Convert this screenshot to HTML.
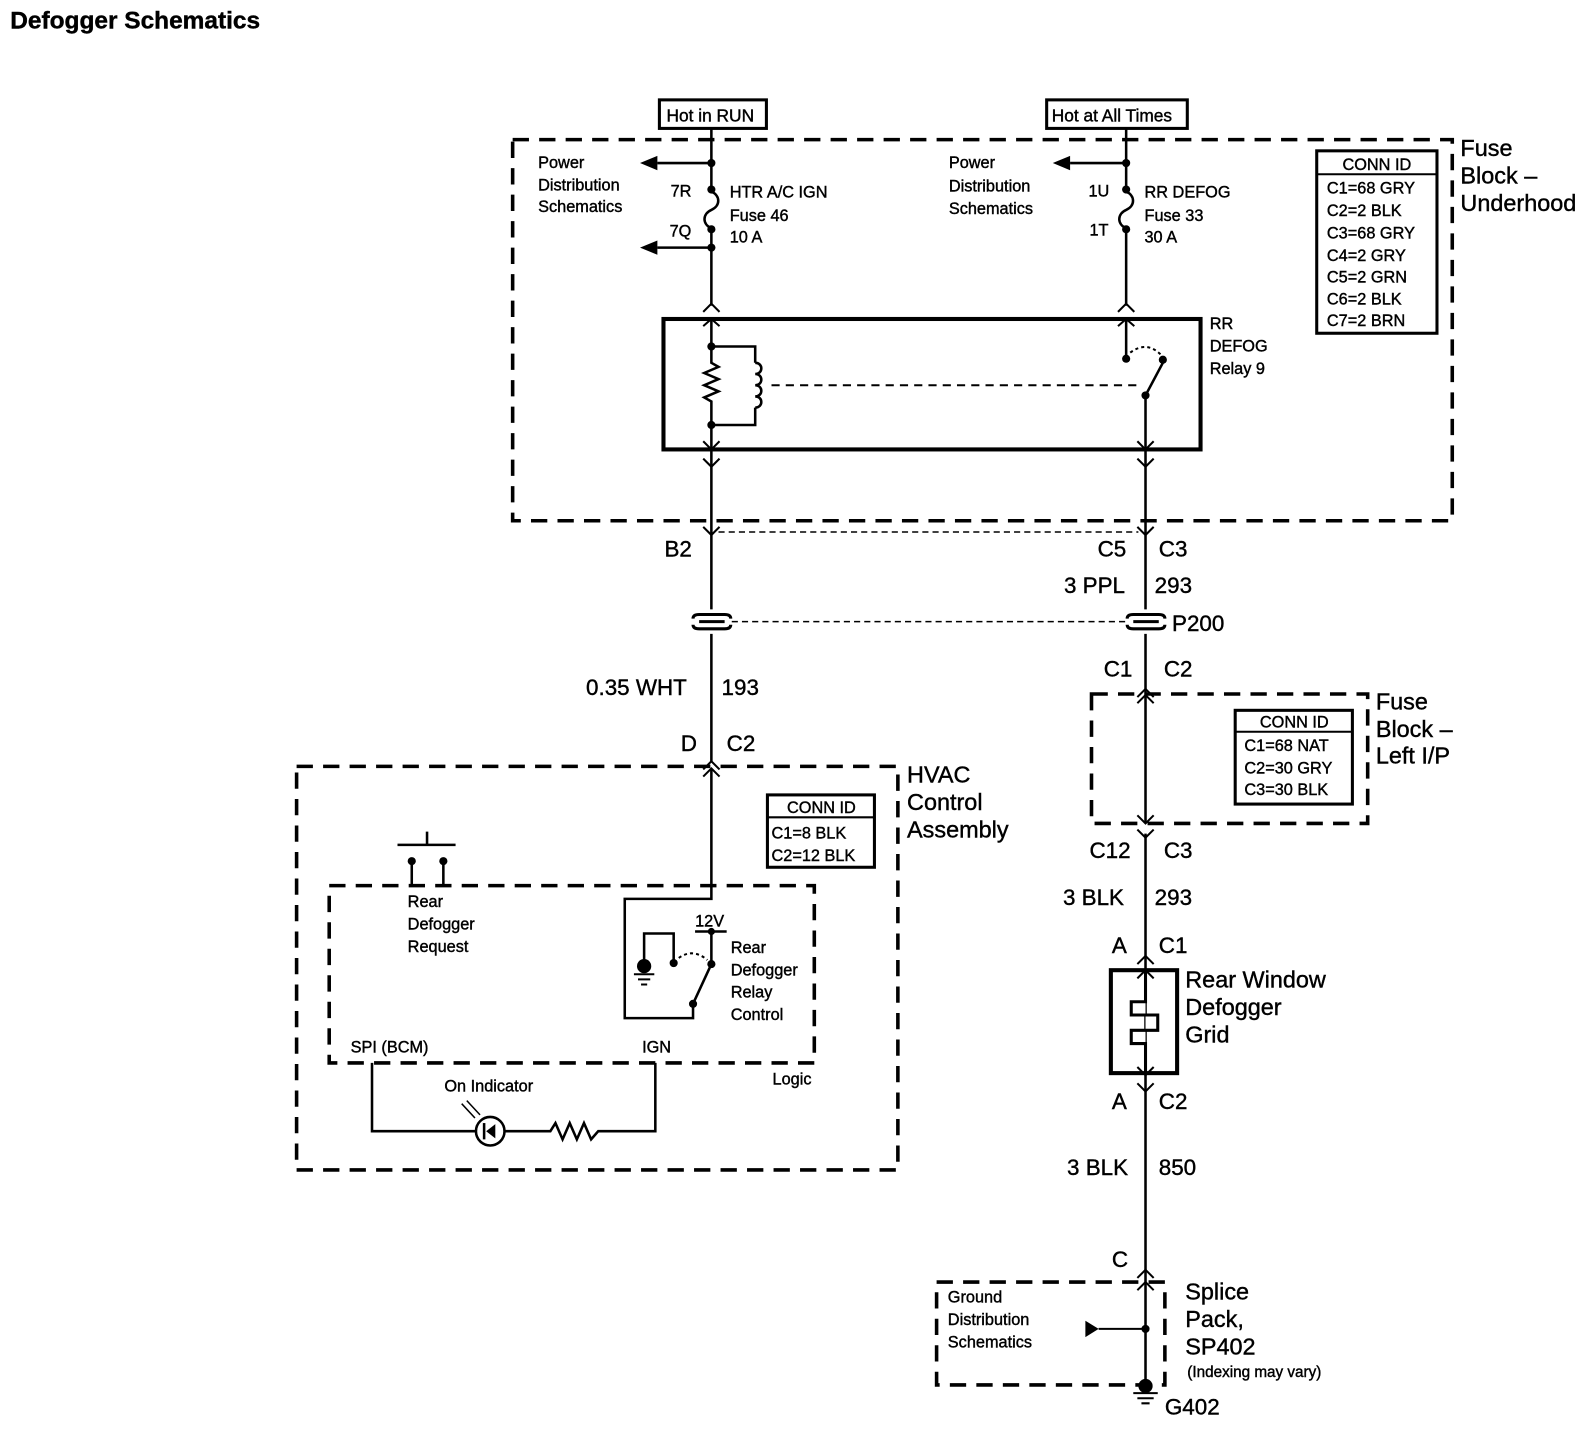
<!DOCTYPE html>
<html><head><meta charset="utf-8"><style>
html,body{margin:0;padding:0;background:#fff;}
svg{display:block;}
text{font-family:"Liberation Sans",sans-serif;fill:#000;stroke:#000;stroke-width:0.4;}
.s{font-size:16px;}
.m{font-size:22px;}
.l{font-size:23px;}
</style></head><body>
<svg width="1596" height="1440" viewBox="0 0 1566 1413" xmlns="http://www.w3.org/2000/svg">
<text x="10" y="28" style="font-size:24px;font-weight:bold">Defogger Schematics</text>

<g fill="none" stroke="#000">
<rect x="647" y="98" width="105" height="28" stroke-width="3"/>
<rect x="1027" y="98" width="138" height="28" stroke-width="3"/>
<rect x="503" y="137" width="922" height="374" stroke-width="3.5" stroke-dasharray="16 10"/>
<path d="M698 126V186M698 225V300M1105 126V186M1105 225V300" stroke-width="2.5"/>
<path d="M698 188C707 192 707 202 698 206C689 210 689 220 698 224M1105 188C1114 192 1114 202 1105 206C1096 210 1096 220 1105 224" stroke-width="2.5"/>
<path d="M698 160H645M698 243H645M1105 160H1050" stroke-width="2.5"/>
<path d="M690 306L698 298L706 306M690 320L698 313L706 320M1097 306L1105 298L1113 306M1097 320L1105 313L1113 320" stroke-width="2"/>
<path d="M690 433L698 441L706 433M690 450L698 458L706 450M1116 433L1124 441L1132 433M1116 450L1124 458L1132 450" stroke-width="2"/>
<rect x="651" y="313" width="527" height="128" stroke-width="4"/>
<path d="M698 313V356L705 360L691 366L705 372L691 378L705 384L691 390L698 394V441M698 340H741V356M741 400V417H698" stroke-width="2.5"/>
<path d="M741 356c8 0 8 11 0 11c8 0 8 11 0 11c8 0 8 11 0 11c8 0 8 11 0 11" stroke-width="2.5"/>
<path d="M757 378H1118" stroke-width="2" stroke-dasharray="8 6"/>
<path d="M1105 313V352M1124 388L1141 356M1124 388V441" stroke-width="2.5"/>
<path d="M1109 346Q1125 334 1139 348" stroke-width="2" stroke-dasharray="3 3"/>
<rect x="1292" y="148" width="118" height="179" stroke-width="3"/>
<path d="M1292 171H1410" stroke-width="2"/>
<path d="M698 441V598M1124 441V598M698 622V747M1124 622V808M1124 818V1063M1124 1063V1360" stroke-width="2.5"/>
<path d="M690 517L698 525L706 517M1116 517L1124 525L1132 517" stroke-width="2"/>
<path d="M705 522H1117" stroke-width="1.5" stroke-dasharray="6 4"/>
<path d="M686 603H711Q717 603 717 607M686 617H711Q717 617 717 613M686 603Q680 603 680 607M686 617Q680 617 680 613M686 610H711" stroke-width="3"/>
<path d="M1112 603H1137Q1143 603 1143 607M1112 617H1137Q1143 617 1143 613M1112 603Q1106 603 1106 607M1112 617Q1106 617 1106 613M1112 610H1137" stroke-width="3"/>
<path d="M718 610H1104" stroke-width="1.5" stroke-dasharray="6 4"/>
<path d="M1116 684L1124 676L1132 684M1116 690L1124 682L1132 690M1116 800L1124 808L1132 800M1116 814L1124 822L1132 814" stroke-width="2"/>
<rect x="1071" y="681" width="271" height="127" stroke-width="3.5" stroke-dasharray="16 10"/>
<rect x="1212" y="697" width="115" height="92" stroke-width="3"/>
<path d="M1212 718H1327" stroke-width="2"/>
<path d="M1116 946L1124 938L1132 946M1116 960L1124 952L1132 960M1116 1047L1124 1055L1132 1047M1116 1063L1124 1071L1132 1063" stroke-width="2"/>
<rect x="1090" y="952" width="65" height="101" stroke-width="4"/>
<path d="M1124 952V983H1110V996H1136V1011H1110V1024H1124V1053" stroke-width="3" fill="#fff"/>
<path d="M1116 1254L1124 1246L1132 1254M1116 1266L1124 1258L1132 1266" stroke-width="2"/>
<rect x="919" y="1258" width="224" height="101" stroke-width="3.5" stroke-dasharray="16 10"/>
<path d="M1078 1304H1124" stroke-width="2"/>
<path d="M1112 1367H1136M1116 1372H1132M1120 1377H1128" stroke-width="2"/>
<path d="M690 755L698 747L706 755M690 762L698 754L706 762" stroke-width="2"/>
<rect x="291" y="752" width="590" height="396" stroke-width="3.5" stroke-dasharray="16 10"/>
<rect x="753" y="780" width="105" height="71" stroke-width="3"/>
<path d="M753 802H858" stroke-width="2"/>
<rect x="323" y="869" width="476" height="174" stroke-width="3.5" stroke-dasharray="16 10"/>
<path d="M390 829H447M419 816V829M404 845V869M435 845V869" stroke-width="2.5"/>
<path d="M698 754V882H613V999H680V985M680 985L698 946M698 946V914M682 914H713M661 945V916H632V944" stroke-width="2.5"/>
<path d="M666 940Q680 930 694 942" stroke-width="2" stroke-dasharray="3 3"/>
<path d="M622 956H642M626 961H638M629 966H635" stroke-width="2"/>
<path d="M365 1043V1110H467M495 1110H540L545 1102L552 1118L559 1102L566 1118L573 1102L580 1118L587 1110H643V1043" stroke-width="2.5"/>
<circle cx="481" cy="1110" r="14" stroke-width="2.5"/>
<path d="M475 1102V1118" stroke-width="2.5"/>
<path d="M453 1083L466 1097M458 1080L471 1094" stroke-width="1.5"/>
</g>
<g fill="#000">
<polygon points="628,160 645,153 645,167"/>
<polygon points="628,243 645,236 645,250"/>
<polygon points="1033,160 1050,153 1050,167"/>
<circle cx="698" cy="160" r="4"/><circle cx="698" cy="186" r="4"/><circle cx="698" cy="225" r="4"/><circle cx="698" cy="243" r="4"/>
<circle cx="1105" cy="160" r="4"/><circle cx="1105" cy="186" r="4"/><circle cx="1105" cy="225" r="4"/>
<circle cx="698" cy="340" r="4"/><circle cx="698" cy="417" r="4"/>
<circle cx="1105" cy="352" r="4"/><circle cx="1141" cy="353" r="4"/><circle cx="1124" cy="388" r="4"/>
<polygon points="1065,1296 1065,1312 1078,1304"/>
<circle cx="1124" cy="1304" r="4"/>
<circle cx="1124" cy="1360" r="7"/>
<circle cx="404" cy="845" r="4"/><circle cx="435" cy="845" r="4"/>
<circle cx="698" cy="914" r="3.5"/><circle cx="698" cy="946" r="4"/><circle cx="680" cy="985" r="4"/><circle cx="661" cy="945" r="4"/>
<circle cx="632" cy="948" r="7"/>
<polygon points="477,1110 486,1103 486,1117"/>
</g>

<text x="654" y="119" class="s" style="font-size:17px">Hot in RUN</text>
<text x="1032" y="119" class="s" style="font-size:17px">Hot at All Times</text>
<text x="528" y="165" class="s">Power</text><text x="528" y="187" class="s">Distribution</text><text x="528" y="208" class="s">Schematics</text>
<text x="931" y="165" class="s">Power</text><text x="931" y="188" class="s">Distribution</text><text x="931" y="210" class="s">Schematics</text>
<text x="658" y="193" class="s">7R</text><text x="657" y="232" class="s">7Q</text>
<text x="716" y="194" class="s">HTR A/C IGN</text><text x="716" y="217" class="s">Fuse 46</text><text x="716" y="238" class="s">10 A</text>
<text x="1068" y="193" class="s">1U</text><text x="1069" y="231" class="s">1T</text>
<text x="1123" y="194" class="s">RR DEFOG</text><text x="1123" y="217" class="s">Fuse 33</text><text x="1123" y="238" class="s">30 A</text>
<text x="1187" y="323" class="s">RR</text><text x="1187" y="345" class="s">DEFOG</text><text x="1187" y="367" class="s">Relay 9</text>
<text x="1351" y="167" class="s" text-anchor="middle">CONN ID</text>
<text x="1302" y="190" class="s">C1=68 GRY</text><text x="1302" y="212" class="s">C2=2 BLK</text><text x="1302" y="234" class="s">C3=68 GRY</text><text x="1302" y="256" class="s">C4=2 GRY</text><text x="1302" y="277" class="s">C5=2 GRN</text><text x="1302" y="299" class="s">C6=2 BLK</text><text x="1302" y="320" class="s">C7=2 BRN</text>
<text x="1433" y="153" class="l">Fuse</text><text x="1433" y="180" class="l">Block –</text><text x="1433" y="207" class="l">Underhood</text>
<text x="652" y="546" class="m">B2</text><text x="1077" y="546" class="m">C5</text><text x="1137" y="546" class="m">C3</text>
<text x="1044" y="582" class="m">3 PPL</text><text x="1133" y="582" class="m">293</text>
<text x="1150" y="619" class="m">P200</text>
<text x="1083" y="664" class="m">C1</text><text x="1142" y="664" class="m">C2</text>
<text x="1270" y="714" class="s" text-anchor="middle">CONN ID</text>
<text x="1221" y="737" class="s">C1=68 NAT</text><text x="1221" y="759" class="s">C2=30 GRY</text><text x="1221" y="780" class="s">C3=30 BLK</text>
<text x="1350" y="696" class="l">Fuse</text><text x="1350" y="723" class="l">Block –</text><text x="1350" y="749" class="l">Left I/P</text>
<text x="1069" y="842" class="m">C12</text><text x="1142" y="842" class="m">C3</text>
<text x="1043" y="888" class="m">3 BLK</text><text x="1133" y="888" class="m">293</text>
<text x="1091" y="935" class="m">A</text><text x="1137" y="935" class="m">C1</text>
<text x="1163" y="969" class="l">Rear Window</text><text x="1163" y="996" class="l">Defogger</text><text x="1163" y="1023" class="l">Grid</text>
<text x="1091" y="1088" class="m">A</text><text x="1137" y="1088" class="m">C2</text>
<text x="1047" y="1153" class="m">3 BLK</text><text x="1137" y="1153" class="m">850</text>
<text x="1091" y="1243" class="m">C</text>
<text x="930" y="1278" class="s">Ground</text><text x="930" y="1300" class="s">Distribution</text><text x="930" y="1322" class="s">Schematics</text>
<text x="1163" y="1275" class="l">Splice</text><text x="1163" y="1302" class="l">Pack,</text><text x="1163" y="1329" class="l">SP402</text>
<text x="1165" y="1351" style="font-size:15px">(Indexing may vary)</text>
<text x="1143" y="1388" class="m">G402</text>
<text x="575" y="682" class="m">0.35 WHT</text><text x="708" y="682" class="m">193</text>
<text x="668" y="737" class="m">D</text><text x="713" y="737" class="m">C2</text>
<text x="890" y="768" class="l">HVAC</text><text x="890" y="795" class="l">Control</text><text x="890" y="822" class="l">Assembly</text>
<text x="806" y="798" class="s" text-anchor="middle">CONN ID</text>
<text x="757" y="823" class="s">C1=8 BLK</text><text x="757" y="845" class="s">C2=12 BLK</text>
<text x="400" y="890" class="s">Rear</text><text x="400" y="912" class="s">Defogger</text><text x="400" y="934" class="s">Request</text>
<text x="682" y="909" class="s">12V</text>
<text x="717" y="935" class="s">Rear</text><text x="717" y="957" class="s">Defogger</text><text x="717" y="979" class="s">Relay</text><text x="717" y="1001" class="s">Control</text>
<text x="344" y="1033" class="s">SPI (BCM)</text><text x="630" y="1033" class="s">IGN</text>
<text x="758" y="1064" class="s">Logic</text>
<text x="436" y="1071" class="s">On Indicator</text>
</svg>
</body></html>
